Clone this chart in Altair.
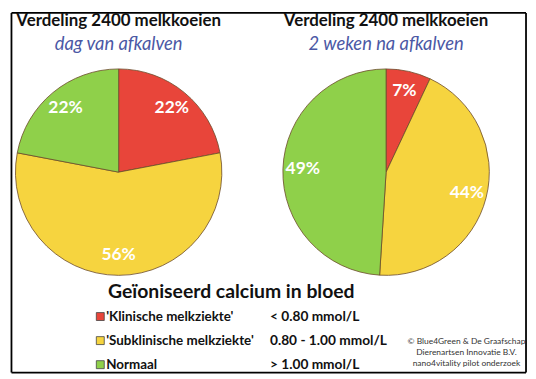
import altair as alt
import pandas as pd

# ---- data ----
moments = ["dag van afkalven", "2 weken na afkalven"]
titles = ["Verdeling 2400 melkkoeien", "Verdeling 2400 melkkoeien"]
categories = ["'Klinische melkziekte'", "'Subklinische melkziekte'", "Normaal"]
ranges = ["< 0.80 mmol/L", "0.80 - 1.00 mmol/L", "> 1.00 mmol/L"]
pct_day0 = [22, 56, 22]
pct_week2 = [7, 44, 49]
colors = ["#e8453a", "#f6d43f", "#8fd04a"]
legend_title = "Geïoniseerd calcium in bloed"
credits = ["© Blue4Green & De Graafschap", "Dierenartsen Innovatie B.V.", "nano4vitality pilot onderzoek"]

FONT = "Lato"
W, H = 524, 368

rows = []
for m, vals in zip(moments, [pct_day0, pct_week2]):
    for i, (c, v) in enumerate(zip(categories, vals)):
        rows.append({"moment": m, "cat": c, "idx": i, "pct": v, "label": f"{v}%"})
pie_df = pd.DataFrame(rows)
title_df = pd.DataFrame({"moment": moments, "title": titles})
legend_df = pd.DataFrame({"cat": categories, "range": ranges})

xscale = alt.Scale(type="point", domain=moments, range=[111.5, 381], padding=0)
cscale = alt.Scale(domain=categories, range=colors)
tscale = alt.Scale(domain=[0, 100])
yleg = alt.Scale(type="point", domain=categories, range=[309.5, 358], padding=0)

pie_base = alt.Chart(pie_df).transform_window(
    cum="sum(pct)", groupby=["moment"], sort=[alt.SortField("idx")]
).transform_calculate(
    start="datum.cum - datum.pct", mid="datum.cum - datum.pct / 2"
)

arcs = pie_base.mark_arc(radius=104, stroke="#6b4b2a", strokeWidth=0.8).encode(
    x=alt.X("moment:N", scale=xscale, axis=None),
    y=alt.value(164),
    theta=alt.Theta("start:Q", scale=tscale),
    theta2="cum:Q",
    color=alt.Color("cat:N", scale=cscale, legend=None),
)

labels = pie_base.mark_text(radius=84, font=FONT, fontWeight="bold", fontSize=17.5,
                            color="white", baseline="middle", align="center").encode(
    x=alt.X("moment:N", scale=xscale, axis=None),
    y=alt.value(164),
    theta=alt.Theta("mid:Q", scale=tscale),
    text="label:N",
)

title_txt = alt.Chart(title_df).mark_text(font=FONT, fontWeight="bold", fontSize=17,
                                          color="#111111", baseline="middle").encode(
    x=alt.X("moment:N", scale=xscale, axis=None), y=alt.value(12), text="title:N")

sub_txt = alt.Chart(title_df).mark_text(font=FONT, fontStyle="italic", fontSize=18.5,
                                        color="#4b58a5", baseline="middle").encode(
    x=alt.X("moment:N", scale=xscale, axis=None), y=alt.value(35), text="moment:N")

one = alt.Data(values=[{"a": 1}])

leg_title = alt.Chart(one).mark_text(font=FONT, fontWeight="bold", fontSize=19.5,
                                     color="#111111", baseline="middle").encode(
    x=alt.value(225), y=alt.value(285), text=alt.value(legend_title))

squares = alt.Chart(legend_df).mark_square(size=64, opacity=1, stroke="#444444", strokeWidth=0.8).encode(
    x=alt.value(93),
    y=alt.Y("cat:N", scale=yleg, axis=None),
    color=alt.Color("cat:N", scale=cscale, legend=None),
)

leg_labels = alt.Chart(legend_df).mark_text(font=FONT, fontWeight="bold", fontSize=13.5,
                                            color="#111111", align="left", baseline="middle").encode(
    x=alt.value(99), y=alt.Y("cat:N", scale=yleg, axis=None), text="cat:N")

leg_ranges = alt.Chart(legend_df).mark_text(font=FONT, fontWeight="bold", fontSize=13.8,
                                            color="#111111", align="left", baseline="middle").encode(
    x=alt.value(264), y=alt.Y("cat:N", scale=yleg, axis=None), text="range:N")

credit_txt = alt.Chart(one).mark_text(font=FONT, fontSize=8.5, lineHeight=11.2,
                                      color="#333333", align="center", baseline="middle").encode(
    x=alt.value(462), y=alt.value(334), text=alt.value(credits))

E = 2
E0 = 3.5
bstyle = dict(color="#000000", strokeWidth=1.8)
b_top = alt.Chart(one).mark_rule(**bstyle).encode(
    x=alt.value(E0), x2=alt.value(W - E), y=alt.value(E0))
b_bottom = alt.Chart(one).mark_rule(**bstyle).encode(
    x=alt.value(E0), x2=alt.value(W - E), y=alt.value(H - E))
b_left = alt.Chart(one).mark_rule(**bstyle).encode(
    x=alt.value(E0), y=alt.value(E0), y2=alt.value(H - E))
b_right = alt.Chart(one).mark_rule(**bstyle).encode(
    x=alt.value(W - E), y=alt.value(E0), y2=alt.value(H - E))

chart = alt.layer(
    b_top, b_bottom, b_left, b_right,
    arcs, labels, title_txt, sub_txt, leg_title, squares, leg_labels, leg_ranges, credit_txt
).properties(
    width=W, height=H, autosize="none", padding=0, background="white"
).configure_view(stroke=None)

chart.save("out.html", embed_options={"renderer": "svg", "actions": False})
